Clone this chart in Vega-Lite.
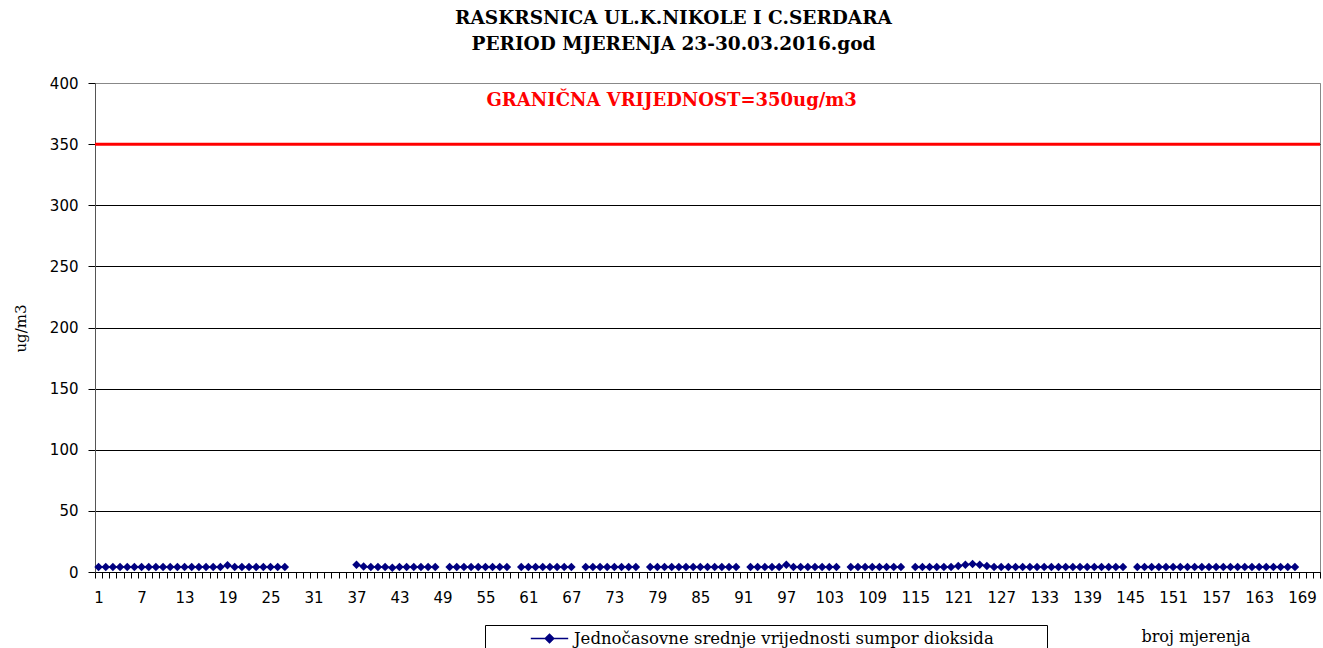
{
  "$schema": "https://vega.github.io/schema/vega-lite/v6.json",
  "width": 1225,
  "height": 489,
  "autosize": {"type": "none"},
  "padding": {"left": 95, "top": 83, "right": 3, "bottom": 76},
  "background": "white",
  "title": {
    "text": ["RASKRSNICA UL.K.NIKOLE I C.SERDARA", "PERIOD MJERENJA 23-30.03.2016.god"],
    "font": "DejaVu Serif",
    "fontSize": 18.5,
    "fontWeight": "bold",
    "color": "#000000",
    "lineHeight": 26,
    "offset": 23,
    "dx": -34,
    "anchor": "middle"
  },
  "config": {
    "view": {"stroke": "#888888", "strokeWidth": 1},
    "axis": {"labelOverlap": false, "labelFlush": false, "labelBound": false},
    "legend": {
      "orient": "none",
      "legendX": 390,
      "legendY": 542,
      "strokeColor": "#000000",
      "fillColor": "#ffffff",
      "padding": 4,
      "cornerRadius": 0,
      "labelFont": "DejaVu Serif",
      "labelFontSize": 16.5,
      "labelColor": "#000000",
      "labelLimit": 0,
      "symbolType": "M-2.2,0L2.2,0M0,-0.5L0.5,0L0,0.5L-0.5,0Z",
      "symbolSize": 289,
      "symbolStrokeWidth": 1.5,
      "symbolFillColor": "#000080",
      "symbolStrokeColor": "#000080",
      "symbolOffset": 51,
      "labelOffset": 15
    }
  },
  "data": {
    "values": [
      {"n": 1, "v": 4}, {"n": 2, "v": 4}, {"n": 3, "v": 4}, {"n": 4, "v": 4}, {"n": 5, "v": 4},
      {"n": 6, "v": 4}, {"n": 7, "v": 4}, {"n": 8, "v": 4}, {"n": 9, "v": 4}, {"n": 10, "v": 4},
      {"n": 11, "v": 4}, {"n": 12, "v": 4}, {"n": 13, "v": 4}, {"n": 14, "v": 4}, {"n": 15, "v": 4},
      {"n": 16, "v": 4}, {"n": 17, "v": 4}, {"n": 18, "v": 4}, {"n": 19, "v": 5.5}, {"n": 20, "v": 4},
      {"n": 21, "v": 4}, {"n": 22, "v": 4}, {"n": 23, "v": 4}, {"n": 24, "v": 4}, {"n": 25, "v": 4},
      {"n": 26, "v": 4}, {"n": 27, "v": 4}, {"n": 28, "v": null}, {"n": 29, "v": null}, {"n": 30, "v": null},
      {"n": 31, "v": null}, {"n": 32, "v": null}, {"n": 33, "v": null}, {"n": 34, "v": null}, {"n": 35, "v": null},
      {"n": 36, "v": null}, {"n": 37, "v": 6}, {"n": 38, "v": 4.5}, {"n": 39, "v": 4}, {"n": 40, "v": 4},
      {"n": 41, "v": 4}, {"n": 42, "v": 3.5}, {"n": 43, "v": 4}, {"n": 44, "v": 4}, {"n": 45, "v": 4},
      {"n": 46, "v": 4}, {"n": 47, "v": 4}, {"n": 48, "v": 4}, {"n": 49, "v": null}, {"n": 50, "v": 4},
      {"n": 51, "v": 4}, {"n": 52, "v": 4}, {"n": 53, "v": 4}, {"n": 54, "v": 4}, {"n": 55, "v": 4},
      {"n": 56, "v": 4}, {"n": 57, "v": 4}, {"n": 58, "v": 4}, {"n": 59, "v": null}, {"n": 60, "v": 4},
      {"n": 61, "v": 4}, {"n": 62, "v": 4}, {"n": 63, "v": 4}, {"n": 64, "v": 4}, {"n": 65, "v": 4},
      {"n": 66, "v": 4}, {"n": 67, "v": 4}, {"n": 68, "v": null}, {"n": 69, "v": 4}, {"n": 70, "v": 4},
      {"n": 71, "v": 4}, {"n": 72, "v": 4}, {"n": 73, "v": 4}, {"n": 74, "v": 4}, {"n": 75, "v": 4},
      {"n": 76, "v": 4}, {"n": 77, "v": null}, {"n": 78, "v": 4}, {"n": 79, "v": 4}, {"n": 80, "v": 4},
      {"n": 81, "v": 4}, {"n": 82, "v": 4}, {"n": 83, "v": 4}, {"n": 84, "v": 4}, {"n": 85, "v": 4},
      {"n": 86, "v": 4}, {"n": 87, "v": 4}, {"n": 88, "v": 4}, {"n": 89, "v": 4}, {"n": 90, "v": 4},
      {"n": 91, "v": null}, {"n": 92, "v": 4}, {"n": 93, "v": 4}, {"n": 94, "v": 4}, {"n": 95, "v": 4},
      {"n": 96, "v": 4}, {"n": 97, "v": 6}, {"n": 98, "v": 4}, {"n": 99, "v": 4}, {"n": 100, "v": 4},
      {"n": 101, "v": 4}, {"n": 102, "v": 4}, {"n": 103, "v": 4}, {"n": 104, "v": 4}, {"n": 105, "v": null},
      {"n": 106, "v": 4}, {"n": 107, "v": 4}, {"n": 108, "v": 4}, {"n": 109, "v": 4}, {"n": 110, "v": 4},
      {"n": 111, "v": 4}, {"n": 112, "v": 4}, {"n": 113, "v": 4}, {"n": 114, "v": null}, {"n": 115, "v": 4},
      {"n": 116, "v": 4}, {"n": 117, "v": 4}, {"n": 118, "v": 4}, {"n": 119, "v": 4}, {"n": 120, "v": 4},
      {"n": 121, "v": 5}, {"n": 122, "v": 6}, {"n": 123, "v": 6.5}, {"n": 124, "v": 6}, {"n": 125, "v": 5},
      {"n": 126, "v": 4}, {"n": 127, "v": 4}, {"n": 128, "v": 4}, {"n": 129, "v": 4}, {"n": 130, "v": 4},
      {"n": 131, "v": 4}, {"n": 132, "v": 4}, {"n": 133, "v": 4}, {"n": 134, "v": 4}, {"n": 135, "v": 4},
      {"n": 136, "v": 4}, {"n": 137, "v": 4}, {"n": 138, "v": 4}, {"n": 139, "v": 4}, {"n": 140, "v": 4},
      {"n": 141, "v": 4}, {"n": 142, "v": 4}, {"n": 143, "v": 4}, {"n": 144, "v": 4}, {"n": 145, "v": null},
      {"n": 146, "v": 4}, {"n": 147, "v": 4}, {"n": 148, "v": 4}, {"n": 149, "v": 4}, {"n": 150, "v": 4},
      {"n": 151, "v": 4}, {"n": 152, "v": 4}, {"n": 153, "v": 4}, {"n": 154, "v": 4}, {"n": 155, "v": 4},
      {"n": 156, "v": 4}, {"n": 157, "v": 4}, {"n": 158, "v": 4}, {"n": 159, "v": 4}, {"n": 160, "v": 4},
      {"n": 161, "v": 4}, {"n": 162, "v": 4}, {"n": 163, "v": 4}, {"n": 164, "v": 4}, {"n": 165, "v": 4},
      {"n": 166, "v": 4}, {"n": 167, "v": 4}, {"n": 168, "v": 4}
    ]
  },
  "layer": [
    {
      "mark": {"type": "line", "strokeWidth": 1.5, "invalid": "break-paths-show-domains"},
      "encoding": {
        "x": {
          "field": "n",
          "type": "quantitative",
          "scale": {"domain": [0.5, 171.5], "nice": false, "zero": false},
          "axis": {
            "title": "broj mjerenja",
            "titleFont": "DejaVu Serif",
            "titleFontSize": 16,
            "titleFontWeight": "normal",
            "titleColor": "#000000",
            "titleX": 1155,
            "titleY": 64,
            "titleAlign": "right",
            "titleBaseline": "middle",
            "titleAngle": 0,
            "grid": false,
            "domainColor": "#000000",
            "domainWidth": 1,
            "tickColor": "#000000",
            "tickSize": 6,
            "tickWidth": 1,
            "tickCount": 400,
            "labelFont": "DejaVu Sans",
            "labelFontSize": 15,
            "labelColor": "#000000",
            "labelPadding": 12,
            "labelOffset": 3.58,
            "labelOverlap": false,
            "labelFlush": false,
            "labelBound": false,
            "labelExpr": "(datum.value - 0.5) % 6 === 0 && datum.value < 171 ? format(datum.value + 0.5, 'd') : ''",
            "values": [0.5, 1.5, 2.5, 3.5, 4.5, 5.5, 6.5, 7.5, 8.5, 9.5,
              10.5, 11.5, 12.5, 13.5, 14.5, 15.5, 16.5, 17.5, 18.5, 19.5,
              20.5, 21.5, 22.5, 23.5, 24.5, 25.5, 26.5, 27.5, 28.5, 29.5,
              30.5, 31.5, 32.5, 33.5, 34.5, 35.5, 36.5, 37.5, 38.5, 39.5,
              40.5, 41.5, 42.5, 43.5, 44.5, 45.5, 46.5, 47.5, 48.5, 49.5,
              50.5, 51.5, 52.5, 53.5, 54.5, 55.5, 56.5, 57.5, 58.5, 59.5,
              60.5, 61.5, 62.5, 63.5, 64.5, 65.5, 66.5, 67.5, 68.5, 69.5,
              70.5, 71.5, 72.5, 73.5, 74.5, 75.5, 76.5, 77.5, 78.5, 79.5,
              80.5, 81.5, 82.5, 83.5, 84.5, 85.5, 86.5, 87.5, 88.5, 89.5,
              90.5, 91.5, 92.5, 93.5, 94.5, 95.5, 96.5, 97.5, 98.5, 99.5,
              100.5, 101.5, 102.5, 103.5, 104.5, 105.5, 106.5, 107.5, 108.5, 109.5,
              110.5, 111.5, 112.5, 113.5, 114.5, 115.5, 116.5, 117.5, 118.5, 119.5,
              120.5, 121.5, 122.5, 123.5, 124.5, 125.5, 126.5, 127.5, 128.5, 129.5,
              130.5, 131.5, 132.5, 133.5, 134.5, 135.5, 136.5, 137.5, 138.5, 139.5,
              140.5, 141.5, 142.5, 143.5, 144.5, 145.5, 146.5, 147.5, 148.5, 149.5,
              150.5, 151.5, 152.5, 153.5, 154.5, 155.5, 156.5, 157.5, 158.5, 159.5,
              160.5, 161.5, 162.5, 163.5, 164.5, 165.5, 166.5, 167.5, 168.5, 169.5,
              170.5, 171.5]
          }
        },
        "y": {
          "field": "v",
          "type": "quantitative",
          "scale": {"domain": [0, 400], "nice": false},
          "axis": {
            "title": "ug/m3",
            "titleFont": "DejaVu Serif",
            "titleFontSize": 15,
            "titleFontWeight": "normal",
            "titleColor": "#000000",
            "titleX": -75,
            "titleY": 245,
            "titleAlign": "center",
            "titleBaseline": "middle",
            "titleAngle": -90,
            "values": [0, 50, 100, 150, 200, 250, 300, 350, 400],
            "tickCount": 20,
            "grid": true,
            "gridColor": {"condition": {"test": "datum.value === 400", "value": "#888888"}, "value": "#000000"},
            "gridWidth": 1,
            "domainColor": "#555555",
            "domainWidth": 1,
            "tickColor": "#000000",
            "tickSize": 7,
            "labelFont": "DejaVu Sans",
            "labelFontSize": 15,
            "labelColor": "#000000",
            "labelPadding": 10
          }
        },
        "color": {
          "datum": "Jednočasovne srednje vrijednosti sumpor dioksida\u2800\u2800\u2800\u2800",
          "scale": {"range": ["#000080"]},
          "legend": {"title": null}
        }
      }
    },
    {
      "mark": {"type": "point", "shape": "diamond", "filled": true, "size": 72, "opacity": 1},
      "encoding": {
        "x": {"field": "n", "type": "quantitative"},
        "y": {"field": "v", "type": "quantitative"},
        "color": {
          "datum": "Jednočasovne srednje vrijednosti sumpor dioksida\u2800\u2800\u2800\u2800",
          "legend": {"title": null}
        }
      }
    },
    {
      "data": {"values": [{"limit": 350}]},
      "mark": {"type": "rule", "stroke": "#FF0000", "strokeWidth": 3},
      "encoding": {
        "y": {"field": "limit", "type": "quantitative"}
      }
    },
    {
      "data": {"values": [{"label": "GRANIČNA VRIJEDNOST=350ug/m3"}]},
      "mark": {
        "type": "text",
        "font": "DejaVu Serif",
        "fontSize": 18,
        "fontWeight": "bold",
        "fill": "#FF0000",
        "align": "center",
        "baseline": "middle"
      },
      "encoding": {
        "text": {"field": "label"},
        "x": {"datum": 81, "type": "quantitative"},
        "y": {"datum": 385, "type": "quantitative"}
      }
    }
  ]
}
